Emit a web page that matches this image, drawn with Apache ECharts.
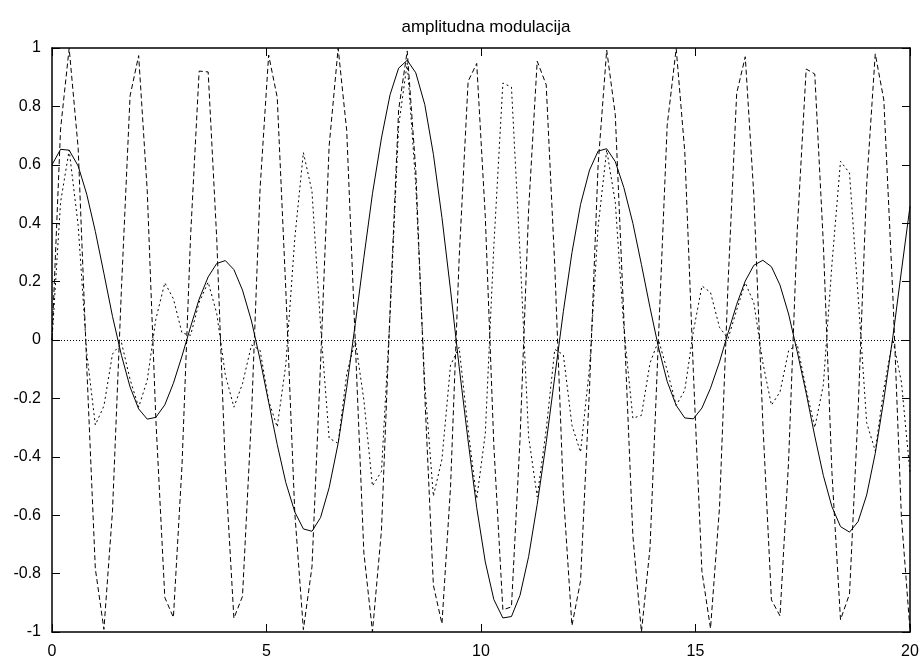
<!DOCTYPE html>
<html>
<head>
<meta charset="utf-8">
<title>amplitudna modulacija</title>
<script src="https://cdn.jsdelivr.net/npm/echarts@6/dist/echarts.min.js"></script>
<style>
  html, body { margin: 0; padding: 0; background: #fff; }
  #main { width: 923px; height: 657px; }
</style>
</head>
<body>
<div id="main"></div>
<script>
// vrijednosti procitane sa slike (100 uzoraka na [0, 20])
const xs = [0, 0.20, 0.40, 0.61, 0.81, 1.01, 1.21, 1.41, 1.62, 1.82,
  2.02, 2.22, 2.42, 2.63, 2.83, 3.03, 3.23, 3.43, 3.64, 3.84,
  4.04, 4.24, 4.44, 4.65, 4.85, 5.05, 5.25, 5.45, 5.66, 5.86,
  6.06, 6.26, 6.46, 6.67, 6.87, 7.07, 7.27, 7.47, 7.68, 7.88,
  8.08, 8.28, 8.48, 8.69, 8.89, 9.09, 9.29, 9.49, 9.70, 9.90,
  10.10, 10.30, 10.51, 10.71, 10.91, 11.11, 11.31, 11.52, 11.72, 11.92,
  12.12, 12.32, 12.53, 12.73, 12.93, 13.13, 13.33, 13.54, 13.74, 13.94,
  14.14, 14.34, 14.55, 14.75, 14.95, 15.15, 15.35, 15.56, 15.76, 15.96,
  16.16, 16.36, 16.57, 16.77, 16.97, 17.17, 17.37, 17.58, 17.78, 17.98,
  18.18, 18.38, 18.59, 18.79, 18.99, 19.19, 19.39, 19.60, 19.80, 20];

// signal (puna linija)
const signal = [0.600, 0.653, 0.650, 0.596, 0.499, 0.372, 0.228, 0.081, -0.053, -0.161,
  -0.236, -0.271, -0.265, -0.222, -0.148, -0.055, 0.045, 0.140, 0.216, 0.262,
  0.272, 0.241, 0.171, 0.065, -0.067, -0.213, -0.358, -0.488, -0.589, -0.647,
  -0.655, -0.608, -0.506, -0.354, -0.162, 0.056, 0.283, 0.501, 0.692, 0.840,
  0.931, 0.958, 0.915, 0.806, 0.636, 0.419, 0.171, -0.091, -0.346, -0.574,
  -0.760, -0.889, -0.952, -0.947, -0.874, -0.742, -0.563, -0.351, -0.125, 0.098,
  0.299, 0.464, 0.582, 0.647, 0.655, 0.611, 0.522, 0.400, 0.258, 0.111,
  -0.027, -0.142, -0.224, -0.267, -0.270, -0.233, -0.165, -0.075, 0.025, 0.122,
  0.202, 0.256, 0.273, 0.251, 0.188, 0.089, -0.039, -0.182, -0.329, -0.464,
  -0.571, -0.639, -0.658, -0.622, -0.531, -0.388, -0.204, 0.010, 0.236, 0.458];

// nosilac (crtkana linija)
const nosilac = [0, 0.723, 0.999, 0.657, -0.091, -0.783, -0.991, -0.586, 0.180, 0.836,
  0.974, 0.511, -0.269, -0.882, -0.950, -0.431, 0.355, 0.921, 0.918, 0.347,
  -0.438, -0.953, -0.878, -0.261, 0.518, 0.976, 0.831, 0.172, -0.593, -0.992,
  -0.777, -0.082, 0.664, 0.999, 0.717, -0.009, -0.729, -0.999, -0.651, 0.099,
  0.788, 0.990, 0.580, -0.189, -0.840, -0.972, -0.503, 0.277, 0.886, 0.947,
  0.423, -0.363, -0.924, -0.914, -0.339, 0.446, 0.955, 0.874, 0.252, -0.525,
  -0.978, -0.826, -0.164, 0.600, 0.993, 0.772, 0.074, -0.670, -1.000, -0.711,
  0.017, 0.735, 0.998, 0.645, -0.108, -0.793, -0.988, -0.573, 0.197, 0.845,
  0.970, 0.496, -0.285, -0.890, -0.945, -0.415, 0.371, 0.928, 0.911, 0.331,
  -0.453, -0.958, -0.870, -0.244, 0.532, 0.980, 0.822, 0.155, -0.607, -0.994];

// modulirani signal (tockasta linija)
const modulirani = [0, 0.472, 0.650, 0.392, -0.045, -0.291, -0.226, -0.048, -0.009, -0.135,
  -0.230, -0.138, 0.071, 0.196, 0.141, 0.024, 0.016, 0.129, 0.198, 0.091,
  -0.119, -0.230, -0.150, -0.017, -0.035, -0.208, -0.298, -0.084, 0.349, 0.642,
  0.509, 0.050, -0.336, -0.354, -0.116, -0.001, -0.206, -0.500, -0.450, 0.083,
  0.734, 0.948, 0.530, -0.152, -0.535, -0.408, -0.086, -0.025, -0.306, -0.544,
  -0.321, 0.323, 0.880, 0.866, 0.296, -0.331, -0.537, -0.307, -0.032, -0.051,
  -0.292, -0.384, -0.095, 0.388, 0.651, 0.472, 0.039, -0.268, -0.258, -0.079,
  -0.001, -0.104, -0.224, -0.172, 0.029, 0.185, 0.163, 0.043, 0.005, 0.103,
  0.196, 0.127, -0.078, -0.223, -0.178, -0.037, -0.014, -0.169, -0.300, -0.154,
  0.259, 0.612, 0.572, 0.152, -0.283, -0.380, -0.167, 0.002, -0.144, -0.455];

const xTicks = [0, 5, 10, 15, 20];
const yTicks = [-1, -0.8, -0.6, -0.4, -0.2, 0, 0.2, 0.4, 0.6, 0.8, 1];

const font = 'Liberation Sans, Arial, sans-serif';

function pairs(ys) {
  return xs.map((x, i) => [x, ys[i]]);
}

function osX(pos, labels) {
  return {
    type: 'value', position: pos,
    min: xTicks[0], max: xTicks[xTicks.length - 1], interval: 5,
    axisLine: { show: true, onZero: false, lineStyle: { color: '#000', width: 1.5 } },
    axisTick: { show: true, inside: true, length: 8, lineStyle: { color: '#000', width: 1 } },
    axisLabel: { show: labels, color: '#000', fontSize: 16, fontFamily: font, margin: 12 },
    splitLine: { show: false }
  };
}

function osY(pos, labels) {
  return {
    type: 'value', position: pos,
    min: yTicks[0], max: yTicks[yTicks.length - 1], interval: 0.2,
    axisLine: { show: true, onZero: false, lineStyle: { color: '#000', width: 1.5 } },
    axisTick: { show: true, inside: true, length: 8, lineStyle: { color: '#000', width: 1 } },
    axisLabel: { show: labels, color: '#000', fontSize: 16, fontFamily: font, margin: 11 },
    splitLine: { show: false }
  };
}

let myChart = echarts.init(document.getElementById('main'));
myChart.setOption({
  animation: false,
  backgroundColor: '#fff',
  title: {
    text: 'amplitudna modulacija',
    left: 481, top: 14, textAlign: 'center',
    textStyle: { color: '#000', fontSize: 17, fontWeight: 'normal', fontFamily: font }
  },
  grid: { left: 52, right: 13, top: 48, bottom: 25, outerBoundsMode: 'none' },
  xAxis: [osX('bottom', true), osX('top', false)],
  yAxis: [osY('left', true), osY('right', false)],
  series: [
    {
      name: 'signal', type: 'line', data: pairs(signal),
      showSymbol: false, symbol: 'none',
      lineStyle: { color: '#000', width: 1 },
      markLine: {
        silent: true, symbol: ['none', 'none'],
        label: { show: false },
        lineStyle: { color: '#000', width: 1, type: [1, 2] },
        data: [{ yAxis: 0 }]
      }
    },
    {
      name: 'nosilac', type: 'line', data: pairs(nosilac),
      showSymbol: false, symbol: 'none',
      lineStyle: { color: '#000', width: 1, type: [5, 3] }
    },
    {
      name: 'modulirani', type: 'line', data: pairs(modulirani),
      showSymbol: false, symbol: 'none',
      lineStyle: { color: '#000', width: 1, type: [2, 3] }
    }
  ]
});
</script>
</body>
</html>
